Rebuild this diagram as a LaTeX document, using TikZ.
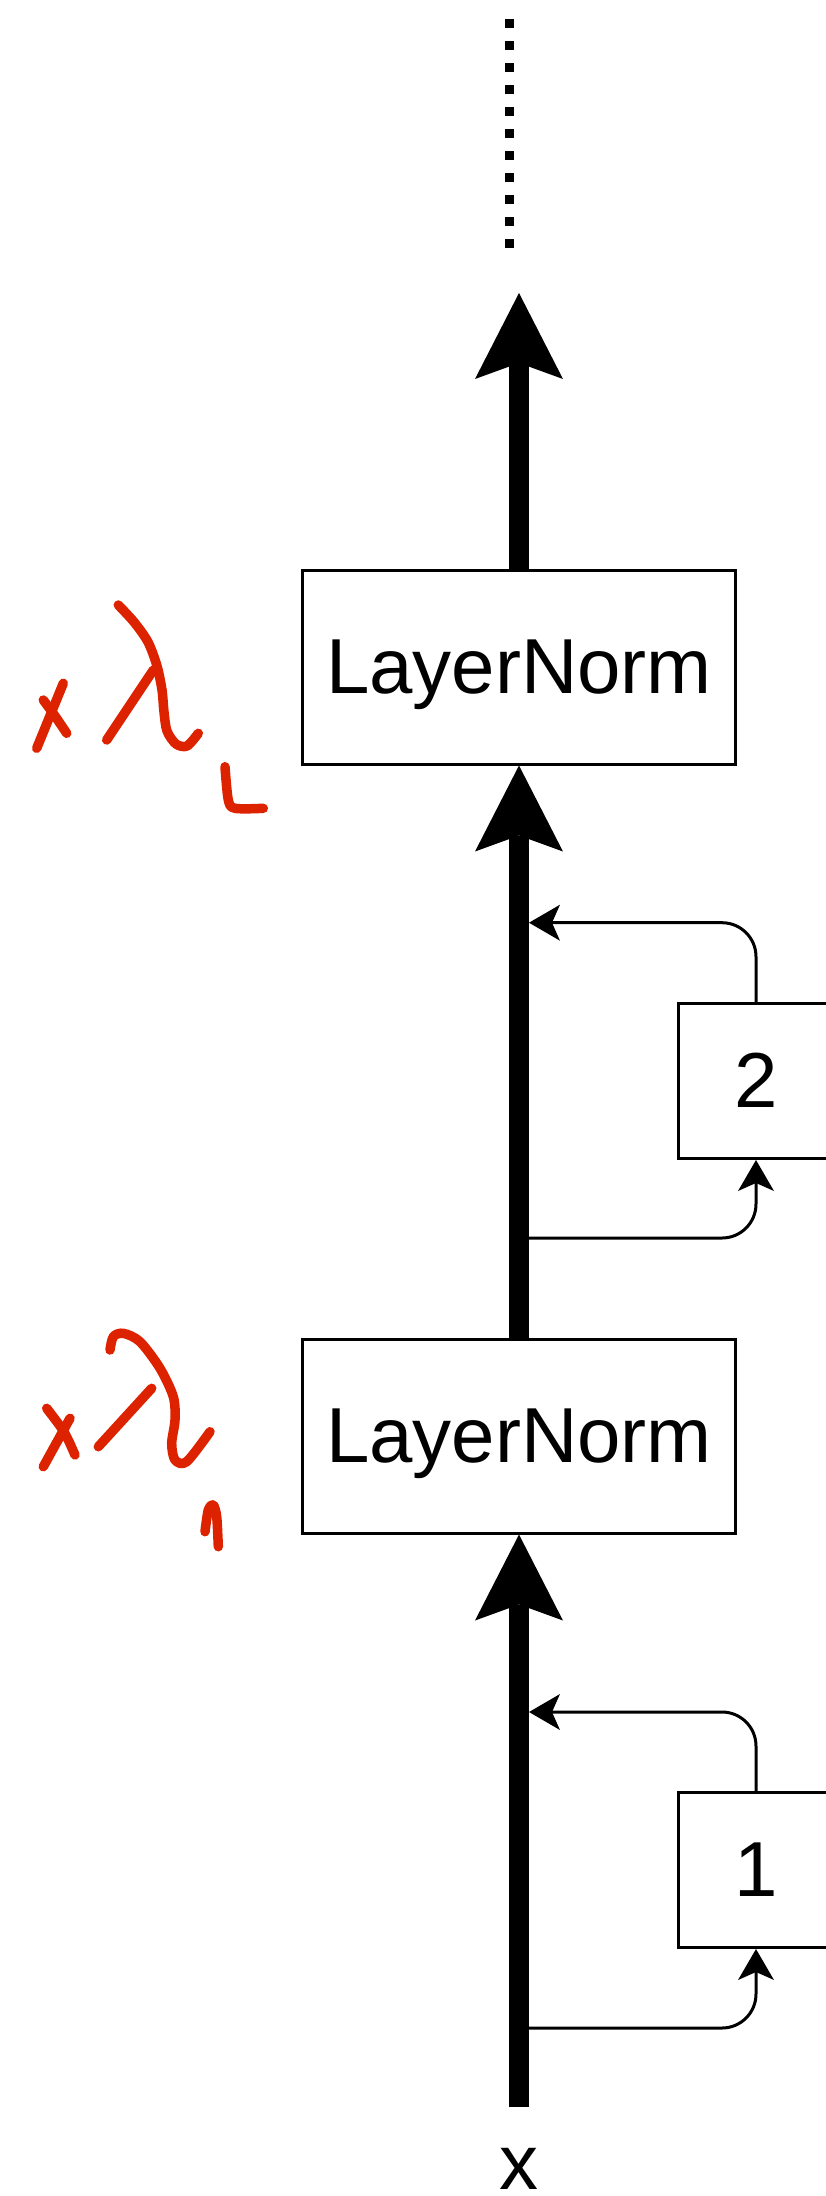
\documentclass[tikz,border=0pt]{standalone}
\usepackage{fontspec}
\setmainfont{Liberation Sans}
\usetikzlibrary{arrows.meta}
\definecolor{penred}{RGB}{221,34,0}
\tikzset{
  BigHead/.tip={Stealth[length=86pt,width=88pt,inset=16pt,line width=0pt]},
  SmallHead/.tip={Stealth[length=31pt,width=36pt,inset=8pt,line width=0pt]},
}
\begin{document}
\begin{tikzpicture}[x=1pt,y=-1pt,
  trunk/.style={line width=20pt,-BigHead},
  skip/.style={line width=3pt,rounded corners=34pt,-SmallHead},
  block/.style={draw,line width=3pt,fill=white,inner sep=0pt,
    font={\fontsize{78}{90}\selectfont},text height=56pt,text depth=4pt},
  normbox/.style={block,minimum width=433pt,minimum height=194pt},
  subbox/.style={block,minimum width=155pt,minimum height=155pt},
  hand/.style={penred,line width=9.5pt,line cap=round,line join=round}]
\useasboundingbox (0,0) rectangle (825,2196);

% blocks
\node[normbox] (ln2) at (519,667) {LayerNorm};
\node[normbox] (ln1) at (519,1436) {LayerNorm};
\node[subbox] (b2) at (756,1081) {2};
\node[subbox] (b1) at (756,1870) {1};
\node[font={\fontsize{78}{90}\selectfont},inner sep=0pt,anchor=base] (xin) at (519,2189) {x};

% points on the residual stream
\coordinate (start) at (519,2107);
\coordinate (top) at (519,293);
\coordinate (fork1) at (519,2028);
\coordinate (join1) at (529,1712);
\coordinate (fork2) at (519,1238);
\coordinate (join2) at (529,922.7);
\coordinate (dotsA) at (509.5,19);
\coordinate (dotsB) at (509.5,248);

% residual branches
\draw[skip] (fork1) -| (b1.south);
\draw[skip] (b1.north) |- (join1);
\draw[skip] (fork2) -| (b2.south);
\draw[skip] (b2.north) |- (join2);

% main stream
\draw[trunk] (start) -- (ln1.south);
\draw[trunk] (ln1.north) -- (ln2.south);
\draw[trunk] (ln2.north) -- (top);
\draw[line width=9pt,dash pattern=on 9pt off 13pt] (dotsA) -- (dotsB);

% handwritten notes: x lambda_L
\draw[hand] (36.7,748.3) -- (63.3,683.3);
\draw[hand] plot[smooth] coordinates {(43.3,700) (55,716) (66.7,733.3)};
\draw[hand] plot[smooth] coordinates {(118.3,605) (134,622) (148,642) (157,666)
  (162,690) (164,712) (167,731) (176,744) (187,746) (198.3,733.3)};
\draw[hand] (153.3,670) -- (106.7,740);
\draw[hand] plot[smooth] coordinates {(225,766.7) (228.3,800) (235,808.3) (263.3,808.3)};

% handwritten notes: x lambda_1
\draw[hand] (43.3,1466.7) -- (70,1418.3);
\draw[hand] plot[smooth] coordinates {(46.7,1408.3) (61.7,1428.3) (68.3,1440) (75,1455)};
\draw[hand] plot[smooth] coordinates {(110,1350) (113.3,1336.7) (123.3,1333.3) (140,1341.7)
  (160,1368.3) (173.3,1396.7) (175,1420) (171.7,1443.3) (175,1460) (186.7,1461.7) (210,1431.7)};
\draw[hand] (151.7,1388.3) -- (98.3,1446.7);
\draw[hand] plot[smooth] coordinates {(205,1531.7) (208.3,1510) (213.3,1505) (216.7,1516.7) (218.3,1546.7)};
\end{tikzpicture}
\end{document}
